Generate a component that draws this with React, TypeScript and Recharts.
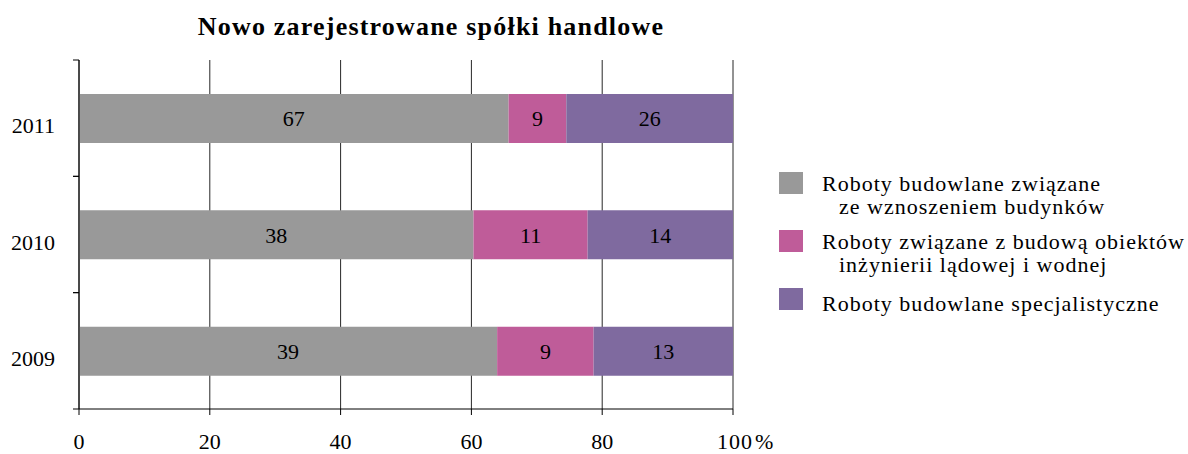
import { BarChart, Bar, XAxis, YAxis, CartesianGrid, LabelList, Legend } from "recharts"

const serif = "'Liberation Serif', 'Times New Roman', serif"

const years = ["2011", "2010", "2009"]
const wznoszenie = [67, 38, 39]
const inzynieria = [9, 11, 9]
const specjalistyczne = [26, 14, 13]
const xTicks = [0, 0.2, 0.4, 0.6, 0.8, 1]

const seriesNames = [
  ["Roboty budowlane związane", "ze wznoszeniem budynków"],
  ["Roboty związane z budową obiektów", "inżynierii lądowej i wodnej"],
  ["Roboty budowlane specjalistyczne"],
]
const colors = ["#999999", "#BF5C99", "#7F6A9F"]

const data = years.map((year, i) => ({
  year,
  a: wznoszenie[i],
  b: inzynieria[i],
  c: specjalistyczne[i],
}))

function YearTick({ x, y, payload }: any) {
  const half = payload.offset ?? 58
  return (
    <g>
      <text x={x - 24} y={y + 15} textAnchor="end" fontSize={22} fontFamily={serif} fill="#000">
        {payload.value}
      </text>
      <line x1={x - 6} x2={x} y1={y - half} y2={y - half} stroke="#000" />
      <line x1={x - 6} x2={x} y1={y + half} y2={y + half} stroke="#000" />
    </g>
  )
}

function PercentTick({ x, y, payload }: any) {
  const v = Math.round(payload.value * 100)
  if (v === 100) {
    return (
      <text x={x - 16} y={y + 32} fontSize={22} fontFamily={serif} fill="#000" letterSpacing={1}>
        100<tspan dx={2}>%</tspan>
      </text>
    )
  }
  return (
    <text x={x} y={y + 32} textAnchor="middle" fontSize={22} fontFamily={serif} fill="#000">
      {v}
    </text>
  )
}

function LegendBox() {
  return (
    <div style={{ fontFamily: serif, fontSize: 22, color: "#000", lineHeight: "23px" }}>
      {seriesNames.map((lines, i) => (
        <div key={i} style={{ display: "flex", alignItems: "flex-start", marginBottom: lines.length > 1 ? 12 : 0 }}>
          <div style={{ width: 24, height: 22, background: colors[i], marginRight: 19, flexShrink: 0 }} />
          <div style={{ letterSpacing: 1, whiteSpace: "nowrap", paddingTop: lines.length > 1 ? 0 : 4 }}>
            {lines.map((l, j) => (
              <div key={j} style={{ paddingLeft: j > 0 ? 17 : 0 }}>{l}</div>
            ))}
          </div>
        </div>
      ))}
    </div>
  )
}

export default function App() {
  return (
    <div style={{ position: "fixed", left: 0, top: 0, width: 1188, height: 454, background: "#fff" }}>
      <div
        style={{
          position: "absolute",
          left: 0,
          width: 862,
          top: 12,
          textAlign: "center",
          fontFamily: serif,
          fontWeight: "bold",
          fontSize: 26,
          letterSpacing: 1.2,
        }}
      >
        Nowo zarejestrowane spółki handlowe
      </div>
      <BarChart
        width={1188}
        height={454}
        data={data}
        layout="vertical"
        stackOffset="expand"
        margin={{ top: 60, right: 455, left: 0, bottom: 0 }}
      >
        <CartesianGrid horizontal={false} stroke="#000" strokeOpacity={0.85} />
        <XAxis
          type="number"
          domain={[0, 1]}
          ticks={xTicks}
          height={45}
          axisLine={{ stroke: "#000" }}
          tickLine={{ stroke: "#000" }}
          tickSize={6}
          tick={<PercentTick />}
        />
        <YAxis
          type="category"
          dataKey="year"
          width={79}
          axisLine={{ stroke: "#000" }}
          tickLine={false}
          tickSize={0}
          tickMargin={0}
          tick={<YearTick />}
        />
        <Legend
          layout="horizontal"
          align="center"
          verticalAlign="middle"
          wrapperStyle={{ left: 779, top: 172, width: 409 }}
          content={<LegendBox />}
        />
        {(["a", "b", "c"] as const).map((key, i) => (
          <Bar key={key} dataKey={key} stackId="s" fill={colors[i]} barSize={49} isAnimationActive={false}>
            <LabelList dataKey={key} position="center" fill="#000" fontSize={22} fontFamily={serif} />
          </Bar>
        ))}
      </BarChart>
    </div>
  )
}
